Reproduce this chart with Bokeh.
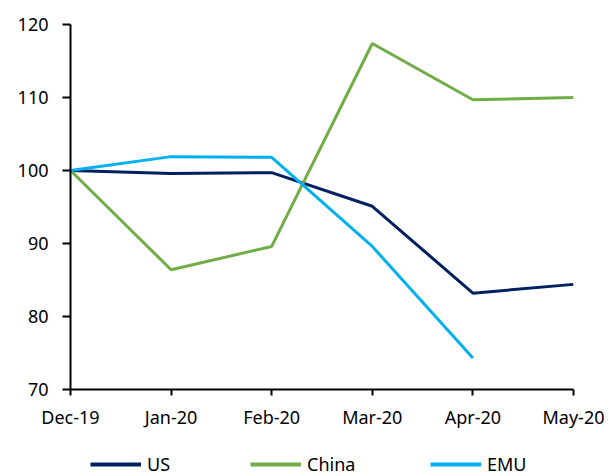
from bokeh.plotting import figure
from bokeh.layouts import column
from bokeh.models import Legend, LegendItem, Range1d, FixedTicker
from bokeh.embed import file_html
from bokeh.resources import INLINE

# Index levels (Dec-19 = 100)
months = ["Dec-19", "Jan-20", "Feb-20", "Mar-20", "Apr-20", "May-20"]
us = [100.0, 99.6, 99.7, 95.1, 83.2, 84.4]
china = [100.0, 86.4, 89.6, 117.4, 109.7, 110.0]
emu = [100.0, 101.9, 101.8, 89.6, 74.3]

series_names = ["US", "China", "EMU"]
series_colors = ["#002060", "#70AD47", "#00B0F0"]
series_values = [us, china, emu]

FONT = "Noto Sans"

p = figure(width=612, height=439, output_backend="svg", toolbar_location=None,
           x_range=Range1d(0, len(months) - 1), y_range=Range1d(70, 120),
           min_border_left=70, min_border_right=39, min_border_top=24,
           min_border_bottom=50)
p.outline_line_color = None
p.xgrid.grid_line_color = None
p.ygrid.grid_line_color = None
p.background_fill_color = "white"
p.border_fill_color = "white"

for vals, col in zip(series_values, series_colors):
    p.line(list(range(len(vals))), vals, line_color=col, line_width=3)

# axes
p.xaxis.ticker = FixedTicker(ticks=list(range(len(months))))
p.xaxis.major_label_overrides = {i: m for i, m in enumerate(months)}
p.yaxis.ticker = FixedTicker(ticks=[70, 80, 90, 100, 110, 120])
for ax in (p.xaxis, p.yaxis):
    ax.axis_line_color = "black"
    ax.axis_line_width = 2
    ax.major_tick_line_color = "black"
    ax.major_tick_line_width = 2
    ax.minor_tick_line_color = None
    ax.major_label_text_font = FONT
    ax.major_label_text_font_size = "18px"
    ax.major_label_text_color = "black"
p.yaxis.major_tick_out = 8
p.yaxis.major_tick_in = 0
p.yaxis.major_label_standoff = 14
p.xaxis.major_tick_out = 6
p.xaxis.major_tick_in = 0
p.xaxis.major_label_standoff = 9

# legend strip under the chart; its lines sit outside its own view ranges
leg = figure(width=612, height=37, output_backend="svg", toolbar_location=None,
             x_range=Range1d(-20, -19), y_range=Range1d(0, 1),
             min_border=0, x_axis_location=None, y_axis_location=None)
leg.outline_line_color = None
leg.xgrid.grid_line_color = None
leg.ygrid.grid_line_color = None
leg_renderers = [leg.line(list(range(len(vals))), vals, line_color=col, line_width=4)
                 for vals, col in zip(series_values, series_colors)]

# one entry per legend so each key sits at its own offset along the strip
entry_offsets = [20, 180, 360]
for name, r, x0 in zip(series_names, leg_renderers, entry_offsets):
    lg = Legend(items=[LegendItem(label=name, renderers=[r])],
                orientation="horizontal", location=(x0, 0))
    lg.label_text_font = FONT
    lg.label_text_font_size = "18px"
    lg.label_text_color = "black"
    lg.glyph_width = 51
    lg.glyph_height = 20
    lg.label_height = 20
    lg.label_standoff = 6
    lg.border_line_color = None
    lg.background_fill_alpha = 0
    lg.margin = 0
    lg.padding = 0
    leg.add_layout(lg, "center")

layout = column(p, leg, spacing=0)
open("out.html", "w").write(file_html(layout, INLINE))
